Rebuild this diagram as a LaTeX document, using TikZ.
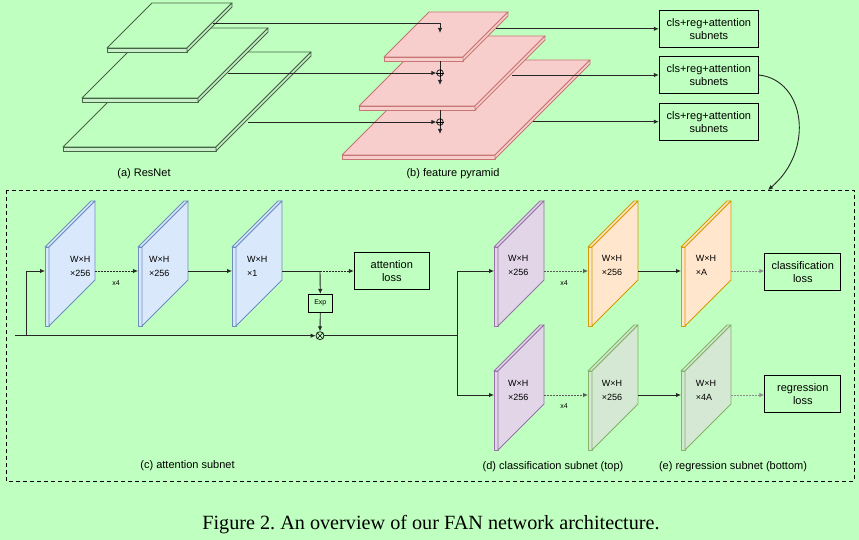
\documentclass[tikz,border=0pt]{standalone}
\usepackage{fontspec}
\setmainfont{Liberation Sans}
\newfontfamily\capfont{Liberation Serif}
\usetikzlibrary{arrows.meta}
\definecolor{bg}{RGB}{191,255,191}
\definecolor{resside}{RGB}{200,240,200}
\definecolor{resline}{RGB}{70,100,70}
\definecolor{pinkf}{HTML}{F8CECC}\definecolor{pinkd}{HTML}{B85450}
\definecolor{bluef}{HTML}{DAE8FC}\definecolor{blued}{HTML}{6C8EBF}
\definecolor{purf}{HTML}{E1D5E7}\definecolor{purd}{HTML}{9673A6}
\definecolor{oraf}{HTML}{FFE6CC}\definecolor{orad}{HTML}{D79B00}
\definecolor{grnf}{HTML}{D5E8D4}\definecolor{grnd}{HTML}{82B366}
\newcommand\hslab[6]{%
 \filldraw[#5] (#1,#2) -- ++(#3,0) -- ++(#4,-#4) -- ++(-#3,0) -- cycle;
 \filldraw[#6] (#1,#2) -- ++(#3,0) -- ++(0,4) -- ++(-#3,0) -- cycle;
 \filldraw[#6] (#1+#3,#2) -- ++(#4,-#4) -- ++(0,4) -- ++(-#4,#4) -- cycle;
}
\newcommand\vslab[4]{%
 \filldraw[#4] (#2,#3) -- ++(4,0) -- ++(46,-46) -- ++(-4,0) -- cycle;
 \filldraw[#4] (#2,#3) -- ++(4,0) -- ++(0,79) -- ++(-4,0) -- cycle;
 \filldraw[#4] (#2+4,#3) -- ++(46,-46) -- ++(0,79) -- ++(-46,46) -- cycle;
 \coordinate (#1-in) at (#2,#3+24);
 \coordinate (#1-out) at (#2+50,#3+24);
}
\frenchspacing
\begin{document}
\begin{tikzpicture}[x=1pt,y=-1pt,
 box/.style={draw=black, line width=1pt, font=\fontsize{11}{13}\selectfont, align=center, inner sep=0pt},
 lab/.style={font=\fontsize{11}{13}\selectfont, inner sep=0pt},
 fm/.style={font=\fontsize{9}{14}\selectfont, align=left, anchor=west, inner sep=0pt},
 sm/.style={font=\fontsize{7}{8}\selectfont, inner sep=0pt},
 ln/.style={line width=0.9pt, draw=black!85},
 arr/.style={ln, -{Latex[length=5pt,width=4.5pt]}},
 dotl/.style={dash pattern=on 1.5pt off 1.5pt},
 resface/.style={fill=bg, draw=resline, line width=0.9pt, line join=round},
 resside/.style={fill=resside, draw=resline, line width=0.9pt, line join=round},
 pink/.style={fill=pinkf, draw=pinkd!80, line width=0.9pt, line join=round},
 blue/.style={fill=bluef, draw=blued, line width=0.9pt, line join=round},
 purp/.style={fill=purf, draw=purd, line width=0.9pt, line join=round},
 oran/.style={fill=oraf, draw=orad, line width=0.9pt, line join=round},
 grn/.style={fill=grnf, draw=grnd, line width=0.9pt, line join=round},
]
\useasboundingbox (0,0) rectangle (859,540);
\fill[bg] (0,0) rectangle (859,540);

% ResNet
\hslab{63}{147}{153}{95}{resface}{resside}
\hslab{82}{98}{116}{70}{resface}{resside}
\hslab{107}{48}{80}{45}{resface}{resside}
% feature pyramid
\hslab{342}{155}{153}{95}{pink}{pink}
\hslab{359}{106}{116}{70}{pink}{pink}
\hslab{384}{57}{79}{45}{pink}{pink}

\node[circle, draw=black!85, line width=0.8pt, minimum size=6.5pt, inner sep=0pt] (p1) at (440,73) {};
\node[circle, draw=black!85, line width=0.8pt, minimum size=6.5pt, inner sep=0pt] (p2) at (440,122) {};
\draw[line width=0.6pt] (p1.north) -- (p1.south) (p1.west) -- (p1.east);
\draw[line width=0.6pt] (p2.north) -- (p2.south) (p2.west) -- (p2.east);

\coordinate (r1) at (213,23);
\coordinate (r2) at (228,73);
\coordinate (r3) at (248,122);
\coordinate (t0) at (440,33);
\draw[arr] (r1) -| (t0);
\draw[arr] (r2) -- (p1.west);
\draw[arr] (r3) -- (p2.west);
\coordinate (t1b) at (440,61);
\coordinate (t1e) at (440,85);
\coordinate (t2b) at (440,110);
\coordinate (t2e) at (440,134);
\draw[ln] (t1b) -- (p1.north);
\draw[arr] (p1.south) -- (t1e);
\draw[ln] (t2b) -- (p2.north);
\draw[arr] (p2.south) -- (t2e);

% subnet boxes
\node[box, minimum width=99pt, minimum height=37pt] (b1) at (708.8,28.8) {cls+reg+attention\\subnets};
\node[box, minimum width=99pt, minimum height=37pt] (b2) at (708.8,75) {cls+reg+attention\\subnets};
\node[box, minimum width=99pt, minimum height=37pt] (b3) at (708.8,121.7) {cls+reg+attention\\subnets};
\coordinate (q1) at (496,28.8);
\coordinate (q2) at (512,75);
\coordinate (q3) at (533,121.7);
\draw[arr] (q1) -- (b1.west);
\draw[arr] (q2) -- (b2.west);
\draw[arr] (q3) -- (b3.west);

\node[lab] (la) at (144,174) {(a) ResNet};
\node[lab] (lb) at (453,174) {(b) feature pyramid};

% dashed frame
\draw[line width=0.9pt, dash pattern=on 4pt off 3pt] (6,190) rectangle (854,481);
\coordinate (ftop) at (768,190);
\draw[arr] (b2.east) .. controls (805,80) and (815,150) .. (ftop);

% attention subnet
\vslab{a1}{45}{247}{blue}
\vslab{a2}{138}{247}{blue}
\vslab{a3}{232}{247}{blue}
\node[fm] (ta1) at (70,266) {W×H\\×256};
\node[fm] (ta2) at (149,266) {W×H\\×256};
\node[fm] (ta3) at (247,266) {W×H\\×1};

\node[box, minimum width=75pt, minimum height=37pt] (aloss) at (391.8,271) {attention\\loss};
\node[draw=black, line width=0.9pt, minimum width=24pt, minimum height=18pt, inner sep=0pt, font=\fontsize{7}{8}\selectfont] (exp) at (320.3,303.3) {Exp};
\node[circle, draw=black!85, line width=0.8pt, minimum size=8pt, inner sep=0pt] (mul) at (320,335.7) {};
\draw[line width=0.6pt] (mul.north east) -- (mul.south west) (mul.north west) -- (mul.south east);

\coordinate (inp) at (15,335.7);
\coordinate (br) at (26,335.7);
\draw[arr] (inp) -- (mul.west);
\draw[arr] (br) |- (a1-in);
\draw[arr, dotl] (a1-out) -- (a2-in);
\node[sm] (x4a) at (116,283) {x4};
\draw[arr] (a2-out) -- (a3-in);
\coordinate (jn) at (320,271);
\draw[ln] (a3-out) -- (jn);
\draw[arr, dotl] (jn) -- (aloss.west);
\draw[arr] (jn) -- (exp.north);
\draw[arr] (exp.south) -- (mul.north);
\coordinate (sp) at (457,335.7);
\draw[ln] (mul.east) -- (sp);

% classification / regression subnets
\vslab{c1}{494}{247}{purp}
\vslab{c2}{588}{247}{oran}
\vslab{c3}{681}{247}{oran}
\vslab{d1}{494}{371}{purp}
\vslab{d2}{588}{371}{grn}
\vslab{d3}{681}{371}{grn}
\node[fm] (tc1) at (508,265.5) {W×H\\×256};
\node[fm] (tc2) at (601.7,265.5) {W×H\\×256};
\node[fm] (tc3) at (695.7,265.5) {W×H\\×A};
\node[fm] (td1) at (508,390) {W×H\\×256};
\node[fm] (td2) at (601.7,390) {W×H\\×256};
\node[fm] (td3) at (695.7,390) {W×H\\×4A};

\draw[arr] (sp) |- (c1-in);
\draw[arr] (sp) |- (d1-in);

\node[box, minimum width=76pt, minimum height=37pt] (closs) at (802.8,271.8) {classification\\loss};
\node[box, minimum width=76pt, minimum height=37pt] (rloss) at (802.8,393.7) {regression\\loss};

\draw[arr, dotl, draw=black!65] (c1-out) -- (c2-in);
\node[sm] (x4c) at (564,283.3) {x4};
\draw[arr] (c2-out) -- (c3-in);
\draw[arr, dotl, draw=black!45] (c3-out) -- (c3-out -| closs.west);
\draw[arr, dotl, draw=black!65] (d1-out) -- (d2-in);
\node[sm] (x4d) at (564,405.7) {x4};
\draw[arr] (d2-out) -- (d3-in);
\draw[arr, dotl, draw=black!45] (d3-out) -- (d3-out -| rloss.west);

\node[lab] (lc) at (187.5,466) {(c) attention subnet};
\node[lab] (ld) at (553,466.7) {(d) classification subnet (top)};
\node[lab] (le) at (733,466.7) {(e) regression subnet (bottom)};

\node[font=\capfont\fontsize{20.2}{24}\selectfont, inner sep=0pt] (cap) at (431,525) {Figure 2. An overview of our FAN network architecture.};
\end{tikzpicture}
\end{document}
